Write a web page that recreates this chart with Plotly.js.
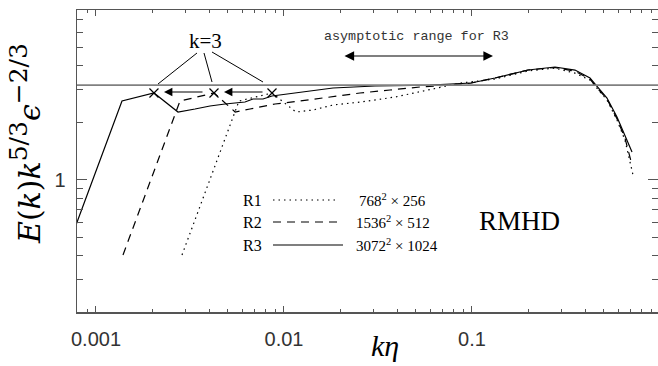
<!DOCTYPE html>
<html>
<head>
<meta charset="utf-8">
<script src="https://cdn.plot.ly/plotly-3.0.1.min.js"></script>
<style>html,body{margin:0;padding:0;background:#fff;}#chart{width:658px;height:366px;}</style>
</head>
<body>
<div id="chart"></div>
<script>
// ---- data (k*eta, E(k) k^{5/3} eps^{-2/3}) ----
const seriesNames = ['R1', 'R2', 'R3'];
const seriesRes = ['768<sup>2</sup> × 256', '1536<sup>2</sup> × 512', '3072<sup>2</sup> × 1024'];

const r3_x = [6.84e-4, 1.375e-3, 2.034e-3, 2.731e-3, 3.363e-3, 4.04e-3, 4.857e-3, 6.2e-3, 6.841e-3, 7.73e-3, 8.634e-3, 0.01217, 0.01822, 0.03048, 0.0598, 0.0988, 0.1325, 0.1986, 0.2764, 0.3531, 0.4243, 0.4567, 0.5225, 0.5905, 0.6514, 0.7098];
const r3_y = [0.405, 2.605, 2.871, 2.28, 2.364, 2.452, 2.512, 2.574, 2.669, 2.669, 2.768, 2.906, 3.05, 3.125, 3.162, 3.24, 3.443, 3.793, 3.934, 3.79, 3.443, 3.162, 2.702, 2.146, 1.725, 1.404];

const r2_x = [1.392e-3, 2.798e-3, 4.243e-3, 5.5e-3, 6.594e-3, 8.96e-3, 0.01217, 0.01757, 0.02537, 0.03663, 0.0529, 0.07638, 0.0988, 0.1325, 0.1986, 0.2764, 0.3531, 0.4243, 0.4567, 0.5225, 0.5905, 0.6514, 0.705];
const r2_y = [0.403, 2.605, 2.871, 2.28, 2.364, 2.512, 2.605, 2.734, 2.871, 2.977, 3.087, 3.162, 3.24, 3.443, 3.793, 3.91, 3.74, 3.40, 3.10, 2.67, 2.10, 1.66, 1.23];

const r1_x = [2.868e-3, 5.763e-3, 8.634e-3, 0.01158, 0.01427, 0.01822, 0.02568, 0.03894, 0.05834, 0.0874, 0.1325, 0.1986, 0.2764, 0.3531, 0.4243, 0.4567, 0.5225, 0.5905, 0.6514, 0.7186];
const r1_y = [0.403, 2.605, 2.871, 2.28, 2.336, 2.482, 2.574, 2.734, 2.977, 3.24, 3.40, 3.75, 3.886, 3.65, 3.36, 3.087, 2.637, 2.07, 1.62, 1.063];

const refLevel = 3.16;          // horizontal reference line
const xTickVals = [0.001, 0.01, 0.1, 1];
const xTickText = ['0.001', '0.01', '0.1', '1'];
const yTickVals = [1];
const yTickText = ['1'];

// ---- helpers for minor ticks ----
function minorTicks(decades) {
  const out = [];
  decades.forEach(d => { for (let m = 2; m <= 9; m++) out.push(+(m * d).toPrecision(3)); });
  return out;
}

const FONT_SERIF = 'Liberation Serif, DejaVu Serif, serif';
const FONT_SANS = 'Liberation Sans, Arial, sans-serif';
const FONT_MONO = 'Liberation Mono, Courier New, monospace';

const lineBase = {color: '#000', width: 1.2};
const traces = [
  {x: r1_x, y: r1_y, mode: 'lines', line: Object.assign({}, lineBase, {dash: '1.5px,4px'}), name: seriesNames[0]},
  {x: r2_x, y: r2_y, mode: 'lines', line: Object.assign({}, lineBase, {dash: '8px,6px'}), name: seriesNames[1]},
  {x: r3_x, y: r3_y, mode: 'lines', line: Object.assign({}, lineBase), name: seriesNames[2]},
  {x: [r3_x[2], r2_x[2], r1_x[2]], y: [r3_y[2], r2_y[2], r1_y[2]], mode: 'markers',
   marker: {symbol: 'x-thin', size: 9, line: {color: '#000', width: 1.2}}, name: 'k=3'}
];

// paper-coordinate helpers (plot area 77..658 x, 10..312 y)
const PX = p => (p - 77) / 581;
const PY = p => (312 - p) / 302;

const shapes = [
  {type: 'line', xref: 'paper', x0: 0, x1: 1, yref: 'y', y0: refLevel, y1: refLevel, line: {color: '#808080', width: 1.8}},
  {type: 'line', xref: 'paper', yref: 'paper', x0: PX(197), y0: PY(53), x1: PX(158), y1: PY(84), line: {color: '#000', width: 1}},
  {type: 'line', xref: 'paper', yref: 'paper', x0: PX(204), y0: PY(53), x1: PX(212), y1: PY(82), line: {color: '#000', width: 1}},
  {type: 'line', xref: 'paper', yref: 'paper', x0: PX(212), y0: PY(52), x1: PX(263), y1: PY(82), line: {color: '#000', width: 1}},
  // legend samples
  {type: 'line', xref: 'paper', yref: 'paper', x0: PX(273), x1: PX(337), y0: PY(200), y1: PY(200), line: {color: '#000', width: 1.2, dash: '1.5px,4px'}},
  {type: 'line', xref: 'paper', yref: 'paper', x0: PX(273), x1: PX(343), y0: PY(222), y1: PY(222), line: {color: '#000', width: 1.2, dash: '8px,6px'}},
  {type: 'line', xref: 'paper', yref: 'paper', x0: PX(273), x1: PX(343), y0: PY(245), y1: PY(245), line: {color: '#000', width: 1.2}}
];

function ann(o) { return Object.assign({xanchor: 'center', yanchor: 'middle', showarrow: false}, o); }

const annotations = [
  ann({xref: 'paper', yref: 'paper', x: PX(205), y: PY(41), text: 'k=3', font: {family: FONT_SERIF, size: 21, color: '#000'}}),
  ann({xref: 'paper', yref: 'paper', x: PX(416), y: PY(36), text: 'asymptotic range for R3', font: {family: FONT_MONO, size: 13.4, color: '#333'}}),
  ann({xref: 'paper', yref: 'paper', x: PX(493), y: PY(56), ax: -150, ay: 0, text: '', showarrow: true, arrowhead: 2, arrowside: 'end+start', arrowsize: 1.6, arrowwidth: 1.2, arrowcolor: '#000'}),
  ann({xref: 'paper', yref: 'paper', x: PX(224), y: PY(92), ax: 40, ay: 0, text: '', showarrow: true, arrowhead: 2, arrowsize: 1.4, arrowwidth: 1.2, arrowcolor: '#000'}),
  ann({xref: 'paper', yref: 'paper', x: PX(164), y: PY(92), ax: 40, ay: 0, text: '', showarrow: true, arrowhead: 2, arrowsize: 1.4, arrowwidth: 1.2, arrowcolor: '#000'}),
  ann({xref: 'paper', yref: 'paper', x: PX(519), y: PY(221), text: 'RMHD', font: {family: FONT_SERIF, size: 27, color: '#000'}}),
  ann({xref: 'paper', yref: 'paper', x: PX(385), y: PY(345), text: '<i>kη</i>', font: {family: FONT_SERIF, size: 30, color: '#000'}}),
  ann({xref: 'paper', yref: 'paper', x: PX(25), y: PY(144), textangle: -90,
       text: '<i>E</i>(<i>k</i>)<i>k</i><sup><span style="font-size:25px">5/3</span></sup><i>ϵ</i><sup><span style="font-size:25px">−2/3</span></sup>',
       font: {family: 'DejaVu Serif, serif', size: 30, color: '#000'}}),
  ann({xref: 'x', yref: 'paper', x: 0, y: PY(336), text: '1', font: {family: FONT_SANS, size: 20, color: '#333'}})
];
for (let i = 0; i < 3; i++) {
  const py = [200, 222, 245][i];
  annotations.push(ann({xref: 'paper', yref: 'paper', x: PX(252), y: PY(py), text: seriesNames[i], font: {family: FONT_SERIF, size: 16, color: '#000'}}));
  annotations.push(ann({xref: 'paper', yref: 'paper', x: PX(i === 0 ? 357 : 354), xanchor: 'left', y: PY(py), text: seriesRes[i], font: {family: FONT_SERIF, size: 15, color: '#000'}}));
}

const axisCommon = {
  showline: true, linecolor: '#555', linewidth: 1.5, mirror: 'allticks',
  ticks: 'inside', tickcolor: '#555', tickwidth: 1,
  showgrid: false, zeroline: false,
  tickfont: {family: FONT_SANS, size: 20, color: '#333'}
};

const layout = {
  width: 658, height: 366,
  margin: {l: 77, r: 0, t: 10, b: 54},
  paper_bgcolor: '#fff', plot_bgcolor: '#fff',
  showlegend: false,
  xaxis: Object.assign({}, axisCommon, {
    type: 'log', range: [-3.101, -0.0106],
    tickmode: 'array', tickvals: xTickVals, ticktext: xTickText, ticklen: 6,
    ticklabelstandoff: 8,
    minor: {ticks: 'inside', tickmode: 'array', tickvals: minorTicks([0.0001, 0.001, 0.01, 0.1]), ticklen: 3, tickcolor: '#555', tickwidth: 1, showgrid: false}
  }),
  yaxis: Object.assign({}, axisCommon, {
    type: 'log', range: [-0.695, 0.895],
    tickmode: 'array', tickvals: yTickVals, ticktext: yTickText, ticklen: 10,
    ticklabelstandoff: 6,
    minor: {ticks: 'inside', tickmode: 'array', tickvals: minorTicks([0.1, 1]), ticklen: 6, tickcolor: '#555', tickwidth: 1, showgrid: false}
  }),
  shapes: shapes,
  annotations: annotations
};

Plotly.newPlot('chart', traces, layout, {staticPlot: true, displayModeBar: false});
</script>
</body>
</html>
